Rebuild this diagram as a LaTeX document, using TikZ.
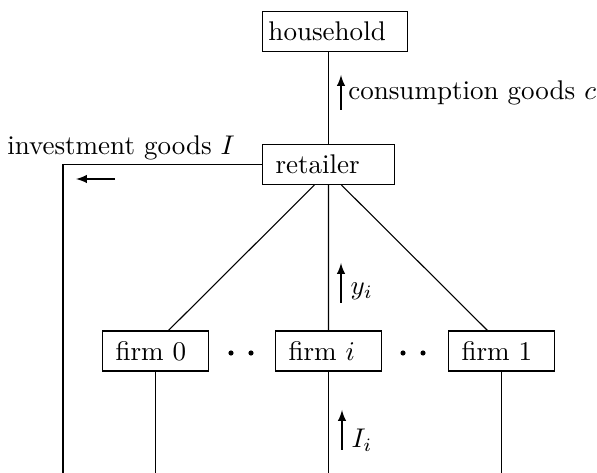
\documentclass[tikz,border=0pt]{standalone}
\usepackage{amsmath,amssymb}
\usepackage{tikz}
\usetikzlibrary{positioning}
\usetikzlibrary{arrows}

\begin{document}
\begin{tikzpicture}[x=0.37pt, y=-0.37pt, box/.style = {draw, align=left, inner xsep=4.8pt, minimum height=14.8pt}, dot/.style = {circle, fill, inner sep=0pt, minimum size=1.9pt}]
\useasboundingbox (0,0) rectangle (597,473);
\node[box, anchor=west, inner xsep=2.2pt, text width=49.2pt] (household) at (262,31.5) {household};
\node[box, anchor=west, text width=39.2pt] (retailer) at (262,164.5) {retailer};
\node[box, anchor=west, text width=29.6pt] (firm0) at (102,351) {firm 0};
\node[box, anchor=west, text width=29.6pt] (firmi) at (275,351) {firm $i$};
\node[box, anchor=west, text width=29.6pt] (firm1) at (448,351) {firm 1};
\node[dot] (d1) at (231,353) {};
\node[dot] (d2) at (251,353) {};
\node[dot] (d3) at (403,353) {};
\node[dot] (d4) at (423,353) {};
\node (invlabel) at (121,148) {investment goods $I$};
\coordinate (bottom) at (0,473);
\coordinate (corner) at (63,473);
\coordinate (cTail) at (341,110);
\coordinate (cHead) at (341,75);
\coordinate (yTail) at (341,303);
\coordinate (yHead) at (341,263);
\coordinate (ITail) at (342,450);
\coordinate (IHead) at (342,410);
\coordinate (invTail) at (115,179);
\coordinate (invHead) at (76,179);
\draw (retailer.north) -- (retailer.north |- household.south);
\draw (retailer.south) -- (firmi.north);
\draw ([xshift=-5.2pt]retailer.south) -- ([xshift=4.8pt]firm0.north);
\draw ([xshift=4.8pt]retailer.south) -- ([xshift=-5.2pt]firm1.north);
\draw (retailer.west) -| (corner);
\draw (firm0.south) -- (firm0.south |- bottom);
\draw (firmi.south) -- (firmi.south |- bottom);
\draw (firm1.south) -- (firm1.south |- bottom);
\draw[-latex] (cTail) -- node[right, inner xsep=2.5pt] {consumption goods $c$} (cHead);
\draw[-latex] (yTail) -- node[right, pos=0.3] {$y_i$} (yHead);
\draw[-latex] (ITail) -- node[right, pos=0.25] {$I_i$} (IHead);
\draw[-latex] (invTail) -- (invHead);
\end{tikzpicture}
\end{document}
